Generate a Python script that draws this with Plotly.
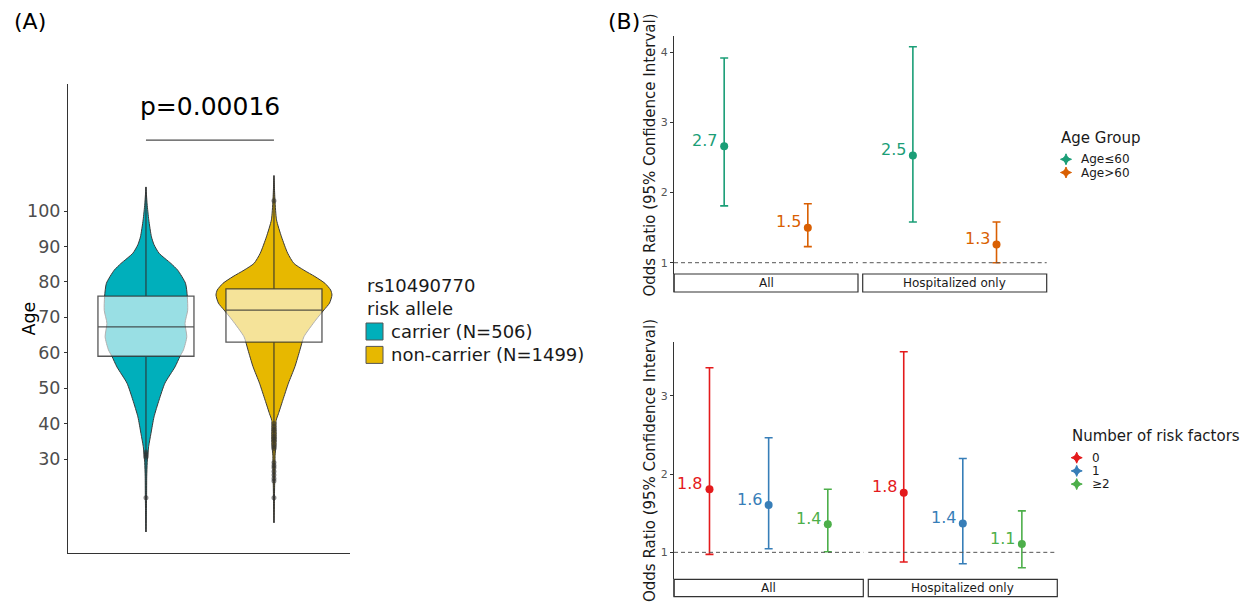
import plotly.graph_objects as go

W, H = 1252, 606
FONT = "DejaVu Sans"

# ---------------- Panel A data ----------------
group_labels = ["carrier (N=506)", "non-carrier (N=1499)"]
group_colors = ["#00AFBB", "#E7B800"]
legend_a_title = "rs10490770<br>risk allele"

# violin outline: age and half-width (in category units)
carrier_age = [9.4, 15, 20, 25, 29, 33.5, 37.2, 41.9, 46.6, 51.4, 56, 59, 60.8, 64.5,
               68.3, 72, 75.9, 79.6, 83.3, 85.2, 88.1, 90.5, 92.7, 97.5, 102, 106.8]
carrier_halfwidth = [0, .003, .005, .006, .010, .021, .039, .063, .102, .148, .227, .266,
                     .293, .319, .305, .326, .323, .309, .248, .195, .102, .063, .043,
                     .022, .009, 0]
noncarrier_age = [12, 17, 22, 27, 31, 34, 37, 40.9, 42.8, 46.6, 51.4, 56.1, 60.8, 64.5,
                  69.2, 72.1, 74, 76.3, 77.7, 79.6, 81.5, 83.3, 85.2, 88.1, 92.7, 97.5,
                  103, 110]
noncarrier_halfwidth = [0, .003, .005, .008, .009, .016, .017, .017, .035, .069, .113,
                        .164, .203, .234, .326, .391, .434, .453, .443, .398, .320, .234,
                        .156, .107, .059, .020, .008, 0]

box_q1 = [59, 63]
box_median = [67.3, 72]
box_q3 = [76, 78]
range_min = [9.4, 12]
range_max = [106.8, 110]
carrier_outliers = [32, 31.5, 31, 30.5, 19.1]
noncarrier_outliers = [102.9, 40, 39.2, 38.5, 38, 37.2, 36.5, 36, 35.5, 35, 34.2, 33.5,
                       33, 29, 28.2, 27.5, 26.5, 25.5, 24.5, 23.8, 19.1]
age_ticks = [30, 40, 50, 60, 70, 80, 90, 100]
p_text = "p=0.00016"
bracket_age = 120
p_text_age = 129.4

# ---------------- Panel B data ----------------
facets = ["All", "Hospitalized only"]
age_groups = ["Age≤60", "Age>60"]
age_colors = ["#1B9E77", "#D95F02"]
age_or_all = [2.66, 1.50]
age_lo_all = [1.81, 1.23]
age_hi_all = [3.92, 1.84]
age_or_hosp = [2.53, 1.26]
age_lo_hosp = [1.58, 1.00]
age_hi_hosp = [4.08, 1.58]

rf_groups = ["0", "1", "≥2"]
rf_colors = ["#E41A1C", "#377EB8", "#4DAF4A"]
rf_or_all = [1.806, 1.605, 1.36]
rf_lo_all = [0.974, 1.046, 1.008]
rf_hi_all = [3.36, 2.465, 1.806]
rf_or_hosp = [1.763, 1.37, 1.106]
rf_lo_hosp = [0.876, 0.854, 0.803]
rf_hi_hosp = [3.565, 2.20, 1.53]

top_ticks = [1, 2, 3, 4]
bottom_ticks = [1, 2, 3]
y_title_b = "Odds Ratio (95% Confidence Interval)"


def px(x):
    return x / W


def py(y):
    return 1 - y / H


fig = go.Figure()

# ---- violins (base layer x/y)
for i, (ages, hw) in enumerate([(carrier_age, carrier_halfwidth),
                                (noncarrier_age, noncarrier_halfwidth)]):
    xs = [i + w for w in hw] + [i - w for w in reversed(hw)]
    ys = list(ages) + list(reversed(ages))
    fig.add_trace(go.Scatter(
        x=xs, y=ys, mode="lines", fill="toself", fillcolor=group_colors[i],
        line=dict(color="#3a3a3a", width=1, shape="spline", smoothing=0.6),
        xaxis="x", yaxis="y", showlegend=False, hoverinfo="skip"))

# ---- boxes + whisker lines (overlay x6/y6)
for i in range(2):
    fig.add_trace(go.Box(
        x=[i], q1=[box_q1[i]], median=[box_median[i]], q3=[box_q3[i]],
        lowerfence=[range_min[i]], upperfence=[range_max[i]],
        width=0.75, whiskerwidth=0, boxpoints=False,
        fillcolor="rgba(255,255,255,0.6)",
        line=dict(color="rgba(45,45,45,0.8)", width=1.3),
        xaxis="x6", yaxis="y6", showlegend=False, hoverinfo="skip"))

for i, outl in enumerate([carrier_outliers, noncarrier_outliers]):
    fig.add_trace(go.Scatter(
        x=[i] * len(outl), y=outl, mode="markers",
        marker=dict(size=5, color="rgba(50,50,50,0.55)"),
        xaxis="x6", yaxis="y6", showlegend=False, hoverinfo="skip"))

# ---- panel B traces
def add_points(vals, lo, hi, colors, xa, ya, annots):
    for i, v in enumerate(vals):
        fig.add_trace(go.Scatter(
            x=[i + 1], y=[v], mode="markers",
            marker=dict(size=8, color=colors[i]),
            error_y=dict(type="data", symmetric=False, array=[hi[i] - v],
                         arrayminus=[v - lo[i]], color=colors[i], thickness=1.6, width=4),
            xaxis=xa, yaxis=ya, showlegend=False, hoverinfo="skip"))
        annots.append(dict(
            x=i + 1, y=v, xref=xa, yref=ya, text=f"{v:.1f}", showarrow=False,
            xanchor="right", yanchor="middle", xshift=-5, yshift=6,
            font=dict(size=16, color=colors[i], family=FONT)))


annotations = []
add_points(age_or_all, age_lo_all, age_hi_all, age_colors, "x2", "y2", annotations)
add_points(age_or_hosp, age_lo_hosp, age_hi_hosp, age_colors, "x3", "y2", annotations)
add_points(rf_or_all, rf_lo_all, rf_hi_all, rf_colors, "x4", "y4", annotations)
add_points(rf_or_hosp, rf_lo_hosp, rf_hi_hosp, rf_colors, "x5", "y4", annotations)

shapes = []

# p-value bracket
shapes.append(dict(type="line", xref="x", yref="y", x0=0, x1=1, y0=bracket_age,
                   y1=bracket_age, line=dict(color="#4d4d4d", width=1.3)))
annotations.append(dict(x=0.5, y=p_text_age, xref="x", yref="y", text=p_text,
                        showarrow=False, font=dict(size=25, color="black", family=FONT)))

# dashed reference lines and strips (strips sit below each panel)
strip_specs = [("x2", "y2", 274, 292), ("x3", "y2", 274, 292),
               ("x4", "y4", 579.3, 596.7), ("x5", "y4", 579.3, 596.7)]
for k, (xa, ya, s0, s1) in enumerate(strip_specs):
    shapes.append(dict(type="line", xref=f"{xa} domain", yref=ya, x0=0, x1=1, y0=1, y1=1,
                       line=dict(color="#555555", width=1, dash="4px,3px")))
    shapes.append(dict(type="rect", xref=f"{xa} domain", yref="paper", x0=0, x1=1,
                       y0=py(s1), y1=py(s0), fillcolor="white",
                       line=dict(color="#333333", width=1.2)))
    annotations.append(dict(x=0.5, y=py((s0 + s1) / 2), xref=f"{xa} domain", yref="paper",
                            text=facets[k % 2], showarrow=False, yanchor="middle",
                            font=dict(size=12, color="#1a1a1a", family=FONT)))

# panel tags and axis title of A
annotations.append(dict(x=px(12), y=py(21), xref="paper", yref="paper", text="(A)",
                        xanchor="left", yanchor="middle", showarrow=False,
                        font=dict(size=22, color="black", family=FONT)))
annotations.append(dict(x=px(606), y=py(21), xref="paper", yref="paper", text="(B)",
                        xanchor="left", yanchor="middle", showarrow=False,
                        font=dict(size=22, color="black", family=FONT)))
annotations.append(dict(x=px(17), y=py(318.5), xref="paper", yref="paper", text="Age",
                        textangle=-90, showarrow=False,
                        font=dict(size=17.5, color="black", family=FONT)))

# ---- legend A
annotations.append(dict(x=px(364.5), y=py(297), xref="paper", yref="paper",
                        text=legend_a_title, xanchor="left", yanchor="middle",
                        align="left", showarrow=False,
                        font=dict(size=18, color="#1a1a1a", family=FONT)))
annotations.append(dict(x=px(388.5), y=py(343), xref="paper", yref="paper",
                        text="<br>".join(group_labels), xanchor="left", yanchor="middle",
                        align="left", showarrow=False,
                        font=dict(size=18, color="#1a1a1a", family=FONT)))
for j in range(len(group_labels)):
    cy = 331.5 + 23.4 * j
    shapes.append(dict(type="rect", xref="paper", yref="paper", x0=px(366), x1=px(383),
                       y0=py(cy + 8.5), y1=py(cy - 8.5), fillcolor=group_colors[j],
                       line=dict(color="#555555", width=1)))


def star_path(cx, cy, r=5.5, r2=1.6):
    pts = [(cx, cy - r), (cx + r2, cy - r2), (cx + r, cy), (cx + r2, cy + r2),
           (cx, cy + r), (cx - r2, cy + r2), (cx - r, cy), (cx - r2, cy - r2)]
    return "M " + " L ".join(f"{px(a):.6f},{py(b):.6f}" for a, b in pts) + " Z"


def add_legend_b(title, tx, ty, labels, colors, kx, ky0, lx):
    annotations.append(dict(x=px(tx), y=py(ty), xref="paper", yref="paper", text=title,
                            xanchor="left", yanchor="middle", showarrow=False,
                            font=dict(size=15, color="#1a1a1a", family=FONT)))
    for j, lab in enumerate(labels):
        cy = ky0 + 13.2 * j
        shapes.append(dict(type="path", xref="paper", yref="paper", path=star_path(kx, cy),
                           fillcolor=colors[j], line=dict(color=colors[j], width=1)))
        shapes.append(dict(type="circle", xref="paper", yref="paper",
                           x0=px(kx - 3), x1=px(kx + 3), y0=py(cy + 3), y1=py(cy - 3),
                           fillcolor=colors[j], line=dict(width=0)))
        annotations.append(dict(x=px(lx), y=py(cy), xref="paper", yref="paper", text=lab,
                                xanchor="left", yanchor="middle", showarrow=False,
                                font=dict(size=12, color="#1a1a1a", family=FONT)))


add_legend_b("Age Group", 1058.5, 138, age_groups, age_colors, 1066, 159.3, 1079)
add_legend_b("Number of risk factors", 1070, 436, rf_groups, rf_colors, 1076.7, 457.7, 1090)

# axis line of panel B continues down along the strips
for xa, s0, s1 in [("x2", 274, 292), ("x4", 579.3, 596.7)]:
    shapes.append(dict(type="line", xref=f"{xa} domain", yref="paper", x0=0, x1=0,
                       y0=py(s1), y1=py(s0), line=dict(color="#333333", width=1.1)))

# ---- axes
hidden = dict(showline=False, showticklabels=False, ticks="", showgrid=False,
              zeroline=False)
ax_line = dict(showline=True, linecolor="#333333", linewidth=1.1, showgrid=False,
               zeroline=False)

a_xrange = [-0.609, 1.594]
a_yrange = [3.47, 135.85]
title_b = dict(text=y_title_b, font=dict(size=15, color="#1a1a1a", family=FONT), standoff=1)

fig.update_layout(
    width=W, height=H, margin=dict(l=0, r=0, t=0, b=0),
    paper_bgcolor="white", plot_bgcolor="rgba(0,0,0,0)",
    font=dict(family=FONT), showlegend=False,
    xaxis=dict(domain=[px(68), px(350)], range=a_xrange, anchor="y",
               showticklabels=False, ticks="", **ax_line),
    yaxis=dict(domain=[py(553), py(84)], range=a_yrange, anchor="x",
               tickvals=age_ticks, ticks="outside", ticklen=3, tickcolor="#333333",
               tickfont=dict(size=17.5, color="#4d4d4d"), **ax_line),
    xaxis6=dict(overlaying="x", range=a_xrange, anchor="y6", visible=False),
    yaxis6=dict(overlaying="y", range=a_yrange, anchor="x6", visible=False),
    xaxis2=dict(domain=[px(674), px(858)], range=[0.4, 2.6], anchor="y2", **hidden),
    xaxis3=dict(domain=[px(862.7), px(1046.7)], range=[0.4, 2.6], anchor="y2", **hidden),
    yaxis2=dict(domain=[py(274), py(36)], range=[0.839, 4.233], anchor="x2",
                tickvals=top_ticks, ticks="outside", ticklen=3, tickcolor="#333333",
                tickfont=dict(size=11, color="#555555"), title=title_b, **ax_line),
    xaxis4=dict(domain=[px(674), px(863.3)], range=[0.4, 3.6], anchor="y4", **hidden),
    xaxis5=dict(domain=[px(868.3), px(1057.3)], range=[0.4, 3.6], anchor="y4", **hidden),
    yaxis4=dict(domain=[py(579.3), py(341.7)], range=[0.655, 3.694], anchor="x4",
                tickvals=bottom_ticks, ticks="outside", ticklen=3, tickcolor="#333333",
                tickfont=dict(size=11, color="#555555"), title=title_b, **ax_line),
    shapes=shapes,
    annotations=annotations,
)

fig.write_html("out.html",
               config={"displayModeBar": False},
               post_script="document.body.style.margin='0';"
                           "document.body.style.overflow='hidden';")
